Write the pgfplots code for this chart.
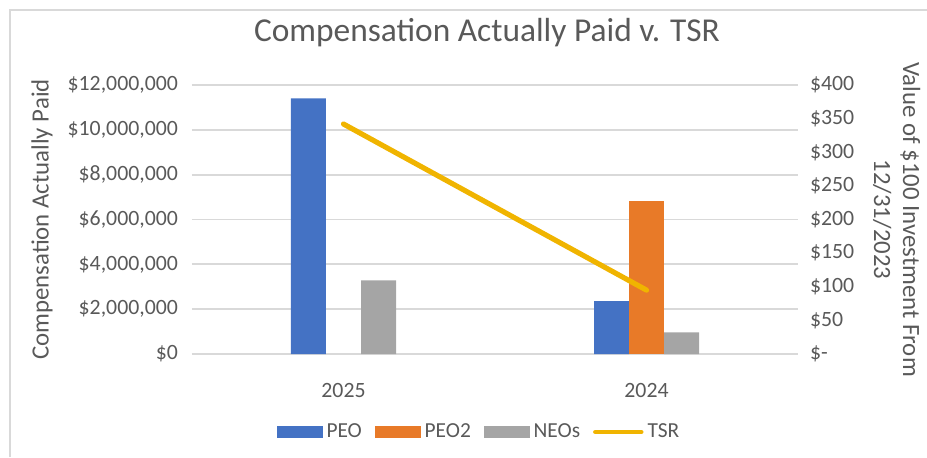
\documentclass[border=0pt]{standalone}
\usepackage{pgfplots}
\pgfplotsset{compat=1.18}
\usepackage{fontspec}
\setmainfont{Carlito}
\definecolor{txt}{HTML}{595959}
\definecolor{gridc}{HTML}{D9D9D9}
\definecolor{peo}{HTML}{4472C4}
\definecolor{peotwo}{HTML}{E87A28}
\definecolor{neos}{HTML}{A5A5A5}
\definecolor{tsr}{HTML}{F0B400}
\begin{document}
\begin{tikzpicture}
\path[use as bounding box] (-96pt,-51.5pt) rectangle (367.5pt,177pt);
\draw[gridc, line width=0.8pt] (-91pt,-51.5pt) -- (-91pt,172pt) -- (367.5pt,172pt);
\begin{axis}[
  at={(0pt,0pt)}, anchor=south west,
  scale only axis, width=303pt, height=134.5pt,
  xmin=-0.5, xmax=1.5, ymin=0, ymax=12000000,
  ybar=0pt, bar width=17.5pt,
  xtick={0,1}, xticklabels={2025,2024},
  ytick={0,2000000,4000000,6000000,8000000,10000000,12000000},
  yticklabels={{\$0},{\$2,000,000},{\$4,000,000},{\$6,000,000},{\$8,000,000},{\$10,000,000},{\$12,000,000}},
  scaled y ticks=false,
  axis line style={draw=none}, major tick style={draw=none},
  ymajorgrids, xmajorgrids=false, grid style={color=gridc, line width=0.9pt},
  tick label style={font=\fontsize{10.9}{12}\selectfont, text=txt},
  /pgf/number format/assume math mode=true,
  yticklabel style={xshift=-3.5pt},
  xticklabel style={yshift=-7pt},
  ylabel={Compensation Actually Paid},
  ylabel style={at={(axis description cs:-0.2475,0.5)}, anchor=center, font=\fontsize{12.4}{13}\selectfont, text=txt},
  title={Compensation Actually Paid v. TSR},
  title style={at={(axis description cs:0.4868,1.149)}, anchor=center, font=\fontsize{16.7}{18}\selectfont, text=txt},
]
\addplot[fill=peo, draw=none] coordinates {(0,11400000) (1,2360000)};
\addplot[fill=peotwo, draw=none] coordinates {(1,6830000)};
\addplot[fill=neos, draw=none] coordinates {(0,3290000) (1,970000)};
\end{axis}
\begin{axis}[
  at={(0pt,0pt)}, anchor=south west,
  scale only axis, width=303pt, height=134.5pt,
  xmin=-0.5, xmax=1.5, ymin=0, ymax=400,
  hide x axis, axis y line*=right,
  ytick={0,50,100,150,200,250,300,350,400},
  yticklabels={{\$-},{\$50},{\$100},{\$150},{\$200},{\$250},{\$300},{\$350},{\$400}},
  axis line style={draw=none}, major tick style={draw=none},
  tick label style={font=\fontsize{10.9}{12}\selectfont, text=txt},
  /pgf/number format/assume math mode=true,
  yticklabel style={anchor=west, xshift=2.5pt},
  ylabel={Value of \$100 Investment From\\12/31/2023},
  ylabel style={at={(axis description cs:1.163,0.5)}, anchor=center, rotate=180, align=center, font=\fontsize{12.4}{14.5}\selectfont, text=txt},
  legend columns=-1,
  legend style={at={(144pt,-39pt)}, anchor=center, draw=none, fill=none, font=\fontsize{10.7}{12}\selectfont, text=txt,
    /tikz/every odd column/.append style={column sep=0pt},
    /tikz/every even column/.append style={column sep=4.5pt}},
]
\addlegendimage{legend image code/.code={\fill[peo] (0pt,-2.75pt) rectangle (22.5pt,2.75pt);}}
\addlegendentry{PEO}
\addlegendimage{legend image code/.code={\fill[peotwo] (0pt,-2.75pt) rectangle (22.5pt,2.75pt);}}
\addlegendentry{PEO2}
\addlegendimage{legend image code/.code={\fill[neos] (0pt,-2.75pt) rectangle (22.5pt,2.75pt);}}
\addlegendentry{NEOs}
\addplot[tsr, line width=2.6pt, line cap=round, legend image code/.code={\draw[tsr, line width=2.2pt, line cap=round] (1pt,0pt) -- (24pt,0pt);}] coordinates {(0,342) (1,95)};
\addlegendentry{TSR}
\end{axis}
\end{tikzpicture}
\end{document}
